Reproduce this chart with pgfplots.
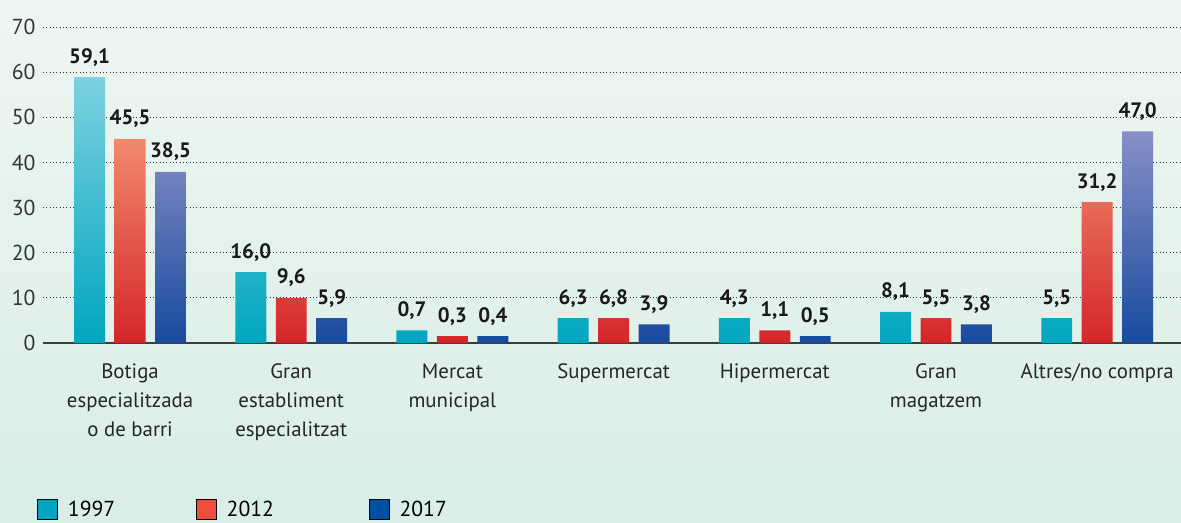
\documentclass[border=0pt]{standalone}
\usepackage{fontspec}
\setmainfont{PT Sans}
\usepackage{pgfplots}
\usepackage{pgfplotstable}
\pgfplotsset{compat=1.18}

\definecolor{bgtop}{HTML}{EEF6F1}
\definecolor{bgbot}{HTML}{D8EEE6}
\definecolor{cyanT}{HTML}{7DD1E0}
\definecolor{cyanM}{HTML}{00ADC5}
\definecolor{cyanB}{HTML}{00A6BF}
\definecolor{redT}{HTML}{F2896C}
\definecolor{redB}{HTML}{D4262A}
\definecolor{bluT}{HTML}{8890C7}
\definecolor{bluB}{HTML}{184A9E}
\definecolor{leg1}{HTML}{00A3C0}
\definecolor{leg2}{HTML}{F04E3C}
\definecolor{leg3}{HTML}{004FA3}
\definecolor{axgray}{HTML}{3A3F3C}

% drawn bar heights, printed labels
\pgfplotstableread{
x y lab
0 58.9 59,1
1 15.7 16,0
2 2.8 0,7
3 5.5 6,3
4 5.5 4,3
5 6.9 8,1
6 5.5 5,5
}\yrA
\pgfplotstableread{
x y lab
0 45.2 45,5
1 10.0 9,6
2 1.5 0,3
3 5.5 6,8
4 2.8 1,1
5 5.5 5,5
6 31.2 31,2
}\yrB
\pgfplotstableread{
x y lab
0 37.9 38,5
1 5.5 5,9
2 1.5 0,4
3 4.1 3,9
4 1.5 0,5
5 4.1 3,8
6 46.9 47,0
}\yrC

\begin{document}
\begin{tikzpicture}
\shade[top color=bgtop, bottom color=bgbot] (0,0) rectangle (708.6pt,313.2pt);
\begin{axis}[
  at={(25.8pt,107.4pt)}, anchor=south west,
  scale only axis, width=682.8pt, height=189.6pt,
  xmin=-0.54, xmax=6.52, ymin=0, ymax=70,
  ybar, bar width=0.192,
  axis lines*=left,
  y axis line style={draw=none},
  x axis line style={draw=axgray, line width=1.2pt},
  major tick length=0pt,
  ytick={0,10,...,70},
  xtick={0,...,6},
  xticklabels={Botiga\\especialitzada\\o de barri, Gran\\establiment\\especialitzat, Mercat\\municipal, Supermercat, Hipermercat, Gran\\magatzem, Altres/no compra},
  xticklabel style={align=center, font=\fontsize{12.5}{17.4}\selectfont, text=black!85, yshift=-9pt},
  yticklabel style={font=\fontsize{13}{15}\selectfont, text=black!80, xshift=-1pt},
  /pgf/number format/assume math mode=true,
  ymajorgrids, grid style={black!80, line width=0.6pt, dash pattern=on 0.6pt off 1.4pt},
  point meta=explicit symbolic,
  nodes near coords,
  nodes near coords style={font=\fontsize{12.5}{15}\bfseries\selectfont, text=black!90, yshift=3pt},
  legend image code/.code={\fill[#1] (0pt,-5.5pt) rectangle (12pt,6.5pt);},
  legend style={at={(axis description cs:-0.0053,-0.489)}, anchor=north west,
    draw=none, fill=none, inner sep=0pt, legend columns=3,
    font=\fontsize{13}{15}\selectfont,
    /tikz/column 1/.style={column sep=4pt},
    /tikz/column 3/.style={column sep=4pt},
    /tikz/column 5/.style={column sep=4pt},
    /tikz/column 2/.style={column sep=46.5pt},
    /tikz/column 4/.style={column sep=55pt}},
]
\addplot[forget plot, draw=none, bar shift=-0.251, top color=cyanT, middle color=cyanM, bottom color=cyanB] table[x=x, y=y, meta=lab] {\yrA};
\addplot[forget plot, draw=none, bar shift=0, top color=redT, bottom color=redB] table[x=x, y=y, meta=lab] {\yrB};
\addplot[forget plot, draw=none, bar shift=0.251, top color=bluT, bottom color=bluB] table[x=x, y=y, meta=lab] {\yrC};
\addlegendimage{fill=leg1}\addlegendentry{1997}
\addlegendimage{fill=leg2}\addlegendentry{2012}
\addlegendimage{fill=leg3}\addlegendentry{2017}
\end{axis}
\pgfresetboundingbox
\path[use as bounding box] (0,0) rectangle (708.6pt,313.2pt);
\end{tikzpicture}
\end{document}
